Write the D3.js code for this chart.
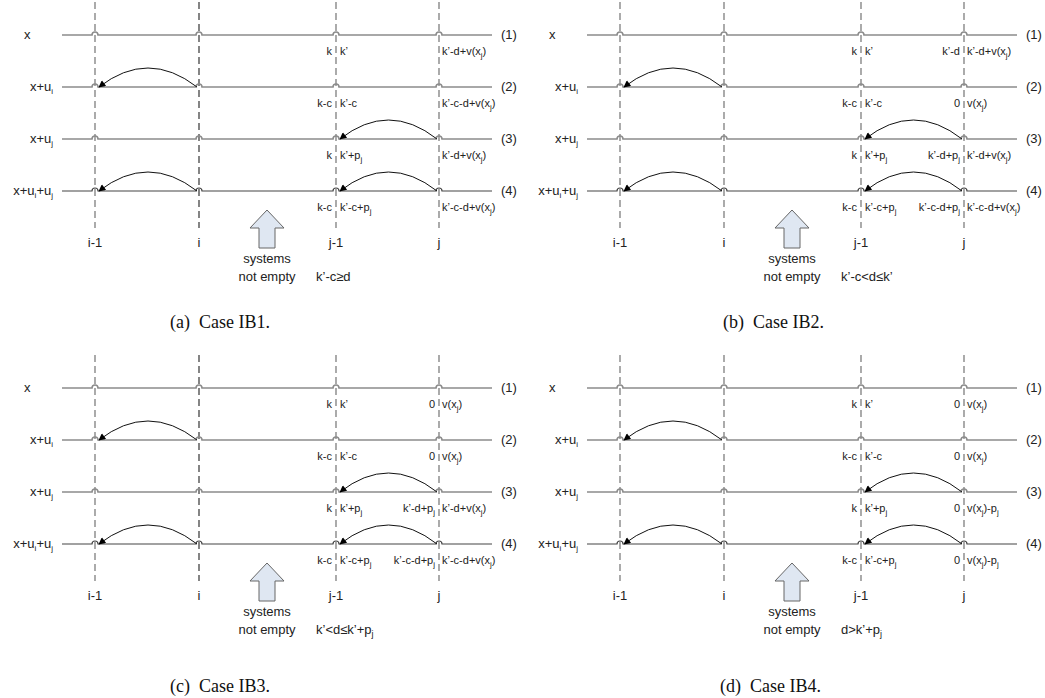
<!DOCTYPE html>
<html>
<head>
<meta charset="utf-8">
<script src="https://cdn.jsdelivr.net/npm/d3@7"></script>
<style>
  body { margin: 0; background: #fff; }
  svg text { font-family: "Liberation Sans", Arial, sans-serif; }
  svg text.caption { font-family: "Liberation Serif", "DejaVu Serif", serif; }
</style>
</head>
<body>
<div id="wrapper"></div>
<script>
// 1. Data
const panelIds = ["a", "b", "c", "d"];
const captions = ["(a)\u2002Case IB1.", "(b)\u2002Case IB2.", "(c)\u2002Case IB3.", "(d)\u2002Case IB4."];
const rowTags = ["(1)", "(2)", "(3)", "(4)"];
const rowNames = ["x", "x+u_i", "x+u_j", "x+u_i+u_j"];
const columns = ["i-1", "i", "j-1", "j"];
// labels left / right of column j-1, one per row (same in every panel)
const leftAtJ1 = ["k", "k-c", "k", "k-c"];
const rightAtJ1 = ["k\u2019", "k\u2019-c", "k\u2019+p_j", "k\u2019-c+p_j"];
// labels left / right of column j, per panel
const leftAtJ = [
  ["", "", "", ""],
  ["k\u2019-d", "0", "k\u2019-d+p_j", "k\u2019-c-d+p_j"],
  ["0", "0", "k\u2019-d+p_j", "k\u2019-c-d+p_j"],
  ["0", "0", "0", "0"]
];
const rightAtJ = [
  ["k\u2019-d+v(x_j)", "k\u2019-c-d+v(x_j)", "k\u2019-d+v(x_j)", "k\u2019-c-d+v(x_j)"],
  ["k\u2019-d+v(x_j)", "v(x_j)", "k\u2019-d+v(x_j)", "k\u2019-c-d+v(x_j)"],
  ["v(x_j)", "v(x_j)", "k\u2019-d+v(x_j)", "k\u2019-c-d+v(x_j)"],
  ["v(x_j)", "v(x_j)", "v(x_j)-p_j", "v(x_j)-p_j"]
];
// jumps drawn on each row: from column to column
const jumps = [[], [["i", "i-1"]], [["j", "j-1"]], [["i", "i-1"], ["j", "j-1"]]];
const conditions = ["k\u2019-c\u2265d", "k\u2019-c<d\u2264k\u2019", "k\u2019<d\u2264k\u2019+p_j", "d>k\u2019+p_j"];

// 2. Dimensions
const dimensions = {
  width: 1045,
  height: 698,
  panelWidth: 525,
  panelHeight: 353,
  lineStart: 62,
  lineEnd: 492,
  hop: 3
};

// 3. Scales
const xScale = d3.scaleOrdinal().domain(columns).range([95, 199, 336, 439]);
const yScale = d3.scalePoint().domain(rowTags).range([35, 191]);
const panelX = d3.scaleOrdinal().domain(panelIds).range([0, dimensions.panelWidth, 0, dimensions.panelWidth]);
const panelY = d3.scaleOrdinal().domain(panelIds).range([0, 0, dimensions.panelHeight, dimensions.panelHeight]);
// caption start inside each panel
const captionX = d3.scaleOrdinal().domain(panelIds).range([170, 198, 170, 195]);
const captionY = d3.scaleOrdinal().domain(panelIds).range([328, 328, 339, 339]);

// text with "_x" subscripts
function richText(sel, str, subSize) {
  const parts = str.split(/_(.)/);
  let shifted = false;
  parts.forEach((p, k) => {
    if (p === "") return;
    const isSub = k % 2 === 1;
    const t = sel.append("tspan").text(p);
    if (isSub) {
      t.attr("font-size", subSize).attr("dy", 3);
      shifted = true;
    } else if (shifted) {
      t.attr("dy", -3);
      shifted = false;
    }
  });
}

// 4. Workspace
const wrapper = d3.select("#wrapper")
  .append("svg")
  .attr("width", dimensions.width)
  .attr("height", dimensions.height);

const defs = wrapper.append("defs");
defs.append("marker")
  .attr("id", "head")
  .attr("viewBox", "0 0 10 10")
  .attr("refX", 9)
  .attr("refY", 5)
  .attr("markerWidth", 9)
  .attr("markerHeight", 7)
  .attr("markerUnits", "userSpaceOnUse")
  .attr("orient", "auto")
  .append("path")
  .attr("d", "M0,0 L10,5 L0,10 Z")
  .attr("fill", "#000");

// row line with little hops over each dashed column
function rowPath(y) {
  const h = dimensions.hop;
  let d = `M${dimensions.lineStart},${y}`;
  columns.forEach(c => {
    const cx = xScale(c);
    d += ` H${cx - h} A${h},${h} 0 0 1 ${cx + h},${y}`;
  });
  return d + ` H${dimensions.lineEnd}`;
}

panelIds.forEach((id, p) => {
  const bounds = wrapper.append("g")
    .attr("transform", `translate(${panelX(id)},${panelY(id)})`);

  // dashed columns
  bounds.selectAll(".col")
    .data(columns)
    .join("line")
    .attr("x1", d => xScale(d))
    .attr("x2", d => xScale(d))
    .attr("y1", 2)
    .attr("y2", 228)
    .attr("stroke", d => (d === "i" && (id === "a" || id === "c")) ? "#222" : "#666")
    .attr("stroke-width", 1.1)
    .attr("stroke-dasharray", "7,4");

  // column labels
  bounds.selectAll(".collabel")
    .data(columns)
    .join("text")
    .attr("x", d => xScale(d))
    .attr("y", 247)
    .attr("text-anchor", "middle")
    .attr("font-size", 13)
    .attr("fill", "#222")
    .text(d => d);

  // rows
  rowTags.forEach((tag, r) => {
    const y = yScale(tag);
    bounds.append("path")
      .attr("d", rowPath(y))
      .attr("fill", "none")
      .attr("stroke", r === 3 ? "#444" : "#8c8c8c")
      .attr("stroke-width", r === 3 ? 1.2 : 1.6);

    bounds.append("text")
      .attr("x", dimensions.lineEnd + 9)
      .attr("y", y + 4)
      .attr("font-size", 13)
      .attr("fill", "#222")
      .text(tag);

    const name = bounds.append("text")
      .attr("x", r === 0 ? 24 : 53)
      .attr("y", y + 4)
      .attr("text-anchor", r === 0 ? "start" : "end")
      .attr("font-size", 13)
      .attr("fill", "#222");
    richText(name, rowNames[r], 8);

    const small = [
      [leftAtJ1[r], xScale("j-1") - 4, "end"],
      [rightAtJ1[r], xScale("j-1") + 4, "start"],
      [leftAtJ[p][r], xScale("j") - 4, "end"],
      [rightAtJ[p][r], xScale("j") + 3, "start"]
    ];
    small.forEach(([s, x, anchor]) => {
      if (!s) return;
      const t = bounds.append("text")
        .attr("x", x)
        .attr("y", y + 20)
        .attr("text-anchor", anchor)
        .attr("font-size", 11)
        .attr("fill", "#222");
      richText(t, s, 8);
    });

    // jump arrows
    jumps[r].forEach(([from, to]) => {
      const x1 = xScale(from) - 2;
      const x2 = xScale(to) + 4;
      const xm = (x1 + x2) / 2;
      bounds.append("path")
        .attr("d", `M${x1},${y} Q${xm},${y - 38} ${x2},${y}`)
        .attr("fill", "none")
        .attr("stroke", "#111")
        .attr("stroke-width", 1)
        .attr("marker-end", "url(#head)");
    });
  });

  // block arrow
  const ax = 267;
  bounds.append("path")
    .attr("d", `M${ax},210 L${ax + 17},228 L${ax + 8},228 L${ax + 8},248 L${ax - 8},248 L${ax - 8},228 L${ax - 17},228 Z`)
    .attr("fill", "#dfe7f2")
    .attr("stroke", "#666")
    .attr("stroke-width", 1);

  bounds.append("text")
    .attr("x", ax)
    .attr("y", 263)
    .attr("text-anchor", "middle")
    .attr("font-size", 13)
    .attr("fill", "#222")
    .text("systems");
  bounds.append("text")
    .attr("x", ax)
    .attr("y", 281)
    .attr("text-anchor", "middle")
    .attr("font-size", 13)
    .attr("fill", "#222")
    .text("not empty");

  const cond = bounds.append("text")
    .attr("x", 316)
    .attr("y", 281)
    .attr("font-size", 13)
    .attr("fill", "#222");
  richText(cond, conditions[p], 9);

  // caption
  bounds.append("text")
    .attr("class", "caption")
    .attr("x", captionX(id))
    .attr("y", captionY(id))
    .attr("font-size", 18)
    .attr("fill", "#111")
    .text(captions[p]);
});
</script>
</body>
</html>
